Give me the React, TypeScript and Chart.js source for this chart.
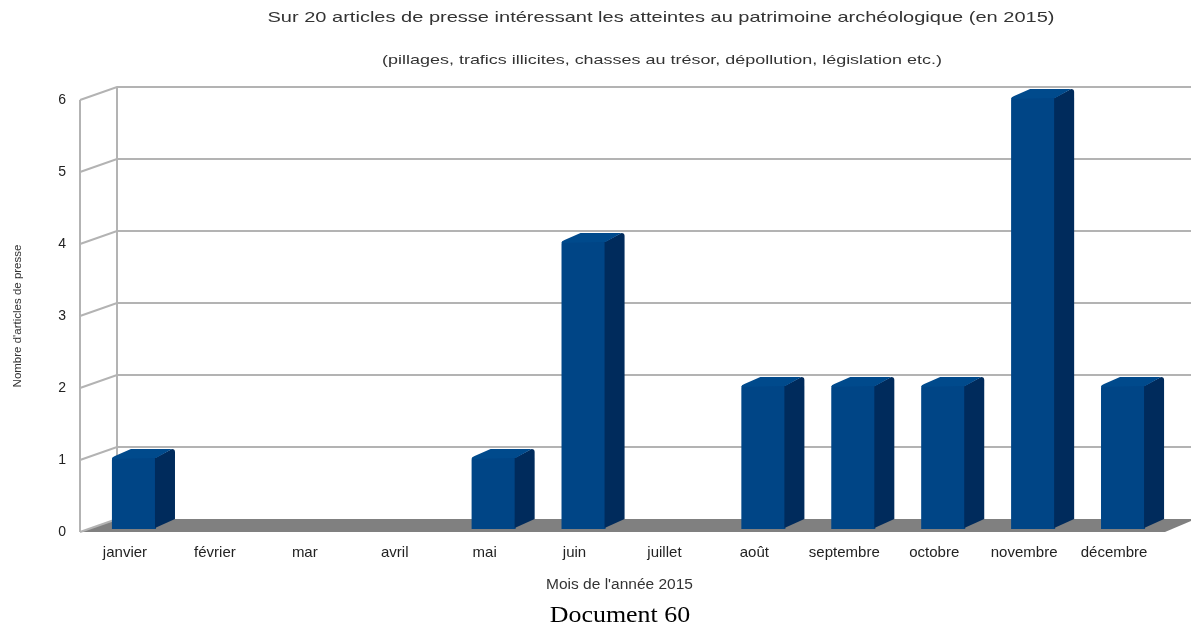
import React, { useEffect, useRef } from "react";
import { Chart, registerables } from "chart.js";

Chart.register(...registerables);

const months = ["janvier", "février", "mar", "avril", "mai", "juin", "juillet", "août", "septembre", "octobre", "novembre", "décembre"];
const articles = [1, 0, 0, 0, 1, 4, 0, 2, 2, 2, 6, 2];
const yTicks = [0, 1, 2, 3, 4, 5, 6];
const titleText = "Sur 20 articles de presse intéressant les atteintes au patrimoine archéologique (en 2015)";
const subtitleText = "(pillages, trafics illicites, chasses au trésor, dépollution, législation etc.)";
const yAxisTitle = "Nombre d'articles de presse";
const xAxisTitle = "Mois de l'année 2015";
const caption = "Document 60";

const WALL_DX = 37;
const WALL_DY = 13;
const BAR_SHIFT_X = 9;
const BAR_SHIFT_Y = 3;
const BAR_DX = 19;
const BAR_DY = 8;
const FONT = "'Liberation Sans', Arial, sans-serif";

const threeDPlugin = {
  id: "threeD",
  beforeDatasetsDraw(chart: any) {
    const { ctx, chartArea, scales } = chart;
    const { left, right } = chartArea;
    const y = scales.y;
    const y0 = y.getPixelForValue(0);
    const yTop = y.getPixelForValue(yTicks[yTicks.length - 1]);
    ctx.save();
    // floor
    ctx.fillStyle = "#808080";
    ctx.beginPath();
    ctx.moveTo(left, y0);
    ctx.lineTo(left + WALL_DX, y0 - WALL_DY);
    ctx.lineTo(right + WALL_DX, y0 - WALL_DY);
    ctx.lineTo(right + 6, y0);
    ctx.closePath();
    ctx.fill();
    // walls and grid
    ctx.strokeStyle = "#b3b3b3";
    ctx.lineWidth = 2;
    ctx.beginPath();
    ctx.moveTo(left, yTop);
    ctx.lineTo(left, y0);
    ctx.moveTo(left + WALL_DX, yTop - WALL_DY);
    ctx.lineTo(left + WALL_DX, y0 - WALL_DY);
    ctx.stroke();
    yTicks.forEach((v) => {
      const py = y.getPixelForValue(v);
      ctx.beginPath();
      ctx.moveTo(left, py);
      ctx.lineTo(left + WALL_DX, py - WALL_DY);
      if (v !== 0) ctx.lineTo(right + WALL_DX, py - WALL_DY);
      ctx.stroke();
    });
    ctx.restore();
    // shift bars into mid-depth
    ctx.save();
    ctx.translate(BAR_SHIFT_X, -BAR_SHIFT_Y);
  },
  afterDatasetsDraw(chart: any) {
    const { ctx } = chart;
    const meta = chart.getDatasetMeta(0);
    meta.data.forEach((el: any, i: number) => {
      if (!articles[i]) return;
      const { x, y, base, width } = el.getProps(["x", "y", "base", "width"], true);
      const l = x - width / 2;
      const r = x + width / 2;
      // side face
      ctx.fillStyle = "#002b5c";
      ctx.beginPath();
      ctx.moveTo(r - 1, y + 1);
      ctx.lineTo(r + BAR_DX - 3, y - BAR_DY);
      ctx.quadraticCurveTo(r + BAR_DX, y - BAR_DY, r + BAR_DX, y - BAR_DY + 3);
      ctx.lineTo(r + BAR_DX, base - BAR_DY - 2);
      ctx.lineTo(r - 1, base - 1);
      ctx.closePath();
      ctx.fill();
      // top face
      ctx.fillStyle = "#004a8c";
      ctx.beginPath();
      ctx.moveTo(l, y + 2);
      ctx.quadraticCurveTo(l, y, l + 3, y - 1);
      ctx.lineTo(l + BAR_DX, y - BAR_DY);
      ctx.lineTo(r + BAR_DX - 3, y - BAR_DY);
      ctx.lineTo(r, y + 1);
      ctx.closePath();
      ctx.fill();
    });
    ctx.restore();
  },
  afterDraw(chart: any) {
    const { ctx } = chart;
    const drawStretched = (text: string, cx: number, cy: number, size: number, sx: number) => {
      ctx.save();
      ctx.translate(cx, cy);
      ctx.scale(sx, 1);
      ctx.textAlign = "center";
      ctx.textBaseline = "middle";
      ctx.fillStyle = "#333333";
      ctx.font = `${size}px ${FONT}`;
      ctx.fillText(text, 0, 0);
      ctx.restore();
    };
    drawStretched(titleText, 661, 18, 15, 1.335);
    drawStretched(subtitleText, 662, 60, 13.5, 1.33);
  },
};

export default function App() {
  const ref = useRef<HTMLCanvasElement | null>(null);
  useEffect(() => {
    if (!ref.current) return;
    const chart = new Chart(ref.current, {
      type: "bar",
      data: {
        labels: months,
        datasets: [
          {
            label: "Articles",
            data: articles,
            backgroundColor: "#004586",
            borderRadius: 3,
            barPercentage: 0.49,
            categoryPercentage: 1,
          },
        ],
      },
      options: {
        animation: false,
        responsive: false,
        devicePixelRatio: 1,
        layout: { padding: { top: 100, right: 32, left: 0, bottom: 0 } },
        plugins: {
          legend: { display: false },
          tooltip: { enabled: false },
          title: { display: false },
        },
        scales: {
          x: {
            grid: { display: false, drawTicks: false },
            border: { display: false },
            ticks: {
              font: { family: FONT, size: 15 },
              color: "#222222",
              padding: 12,
              maxRotation: 0,
              autoSkip: false,
            },
            title: {
              display: true,
              text: xAxisTitle,
              font: { family: FONT, size: 15.5 },
              color: "#333333",
              padding: { top: 0, bottom: 33.7 },
            },
            afterFit: (s: any) => {
              s.height = 96;
            },
          },
          y: {
            min: 0,
            max: 6,
            grid: { display: false, drawTicks: false },
            border: { display: false },
            ticks: {
              stepSize: 1,
              font: { family: FONT, size: 14 },
              color: "#222222",
              padding: 14,
            },
            title: {
              display: true,
              text: yAxisTitle,
              font: { family: FONT, size: 11.5 },
              color: "#333333",
              padding: { top: 11, bottom: 0 },
            },
            afterFit: (s: any) => {
              s.width = 80;
            },
          },
        },
      },
      plugins: [threeDPlugin],
    });
    return () => chart.destroy();
  }, []);

  return (
    <div style={{ position: "absolute", left: 0, top: 0, width: 1191, height: 628, background: "#fff" }}>
      <canvas ref={ref} width={1191} height={628} style={{ display: "block" }} />
      <div
        style={{
          position: "absolute",
          left: 0,
          width: 1240,
          top: 600,
          height: 28,
          lineHeight: "28px",
          textAlign: "center",
          fontFamily: "'Liberation Serif', 'Times New Roman', serif",
          fontSize: 24,
          color: "#000",
          transform: "scaleX(1.08)",
          transformOrigin: "620px 50%",
        }}
      >
        {caption}
      </div>
    </div>
  );
}
